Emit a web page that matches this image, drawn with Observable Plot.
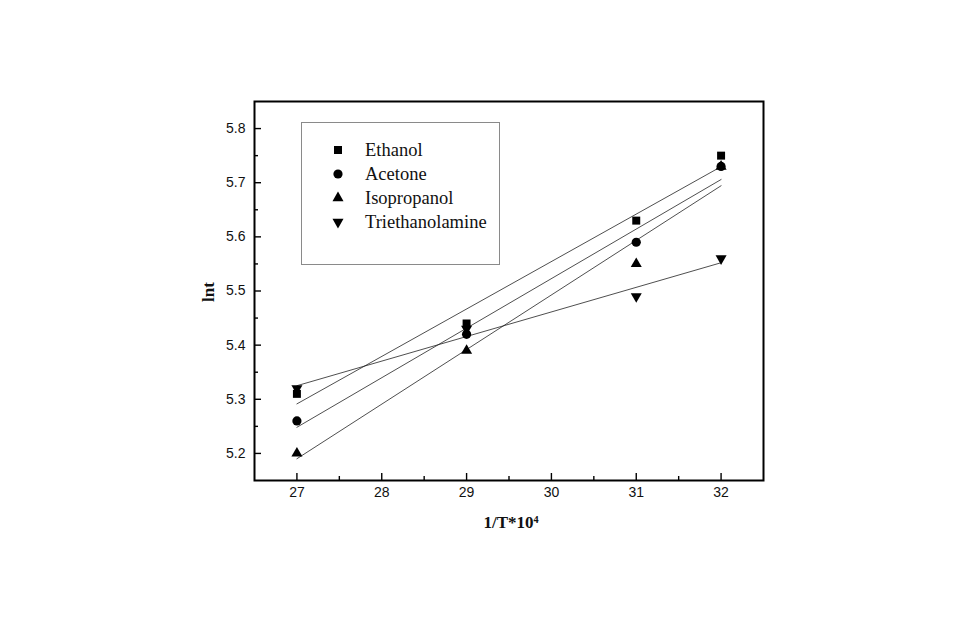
<!DOCTYPE html>
<html>
<head>
<meta charset="utf-8">
<script src="https://cdn.jsdelivr.net/npm/d3@7"></script>
<script src="https://cdn.jsdelivr.net/npm/@observablehq/plot@0.6"></script>
<style>
  html, body { margin: 0; padding: 0; background: #fff; }
  #wrap { position: relative; width: 960px; height: 633px; }
  #legend { position: absolute; left: 301px; top: 122px; width: 197px; height: 141px;
            border: 1px solid #8a8a8a; background: #fff; font-family: "Liberation Serif", serif; font-size: 18.5px; color: #111; }
  .row { position: absolute; left: 0; height: 24px; display: flex; align-items: center; }
  .row svg { position: absolute; left: 27px; top: 3px; }
  .row span { position: absolute; left: 63px; white-space: nowrap; line-height: 24px; top: 0; }
</style>
</head>
<body>
<div id="wrap"></div>
<script>
// ---- data ----
const xValues = [27, 29, 31, 32];
const ethanol = [5.31, 5.44, 5.63, 5.75];
const acetone = [5.26, 5.42, 5.59, 5.73];
const isopropanol = [5.20, 5.39, 5.55, 5.73];
const triethanolamine = [5.32, 5.43, 5.49, 5.56];
const seriesNames = ["Ethanol", "Acetone", "Isopropanol", "Triethanolamine"];
const xTicks = [27, 28, 29, 30, 31, 32];
const xMinorTicks = [27.5, 28.5, 29.5, 30.5, 31.5];
const yTicks = [5.2, 5.3, 5.4, 5.5, 5.6, 5.7, 5.8];
const yMinorTicks = [5.25, 5.35, 5.45, 5.55, 5.65, 5.75];
const xLabel = "1/T*10\u2074";
const yLabel = "lnt";

const seriesValues = [ethanol, acetone, isopropanol, triethanolamine];
const rows = seriesNames.flatMap((s, i) => xValues.map((x, j) => ({series: s, x, y: seriesValues[i][j]})));
const bySeries = name => rows.filter(d => d.series === name);

const W = 960, H = 633, mL = 254, mR = 197, mT = 101, mB = 153;
const pw = W - mL - mR, ph = H - mT - mB;

const chart = Plot.plot({
  width: W, height: H,
  marginLeft: mL, marginRight: mR, marginTop: mT, marginBottom: mB,
  style: {background: "transparent", fontFamily: "'Liberation Sans', Arial, sans-serif", fontSize: "14px", color: "#111"},
  x: {domain: [26.5, 32.5]},
  y: {domain: [5.15, 5.85]},
  marks: [
    Plot.linearRegressionY(rows, {x: "x", y: "y", z: "series", ci: 0, stroke: "#222", strokeWidth: 0.8}),
    Plot.dot(bySeries("Ethanol"), {x: "x", y: "y", symbol: "square", r: 4.5, fill: "#000"}),
    Plot.dot(bySeries("Acetone"), {x: "x", y: "y", symbol: "circle", r: 4.6, fill: "#000"}),
    Plot.dot(bySeries("Isopropanol"), {x: "x", y: "y", symbol: "triangle", r: 4.1, fill: "#000"}),
    Plot.dot(bySeries("Triethanolamine"), {x: "x", y: "y", symbol: "triangle", rotate: 180, r: 4.1, fill: "#000"}),
    Plot.tickX(xTicks, {x: d => d, insetTop: ph - 7, stroke: "#000", strokeWidth: 1.4}),
    Plot.tickX(xMinorTicks, {x: d => d, insetTop: ph - 4, stroke: "#000", strokeWidth: 1.4}),
    Plot.tickY(yTicks, {y: d => d, insetRight: pw - 7, stroke: "#000", strokeWidth: 1.4}),
    Plot.tickY(yMinorTicks, {y: d => d, insetRight: pw - 4, stroke: "#000", strokeWidth: 1.4}),
    Plot.axisX({ticks: xTicks, tickSize: 0, tickPadding: 7, label: null, tickFormat: d => String(d)}),
    Plot.axisY({ticks: yTicks, tickSize: 0, tickPadding: 9, label: null, tickFormat: d3.format(".1f")}),
    Plot.frame({stroke: "#000", strokeWidth: 2}),
    Plot.text([yLabel], {frameAnchor: "left", dx: -46, dy: 11, rotate: -90, text: d => d,
      fontFamily: "'Liberation Serif', serif", fontWeight: "bold", fontSize: 17, fill: "#111"}),
    Plot.text([xLabel], {frameAnchor: "bottom", dx: 2, dy: 42, text: d => d, lineAnchor: "middle",
      fontFamily: "'Liberation Serif', serif", fontWeight: "bold", fontSize: 17, fill: "#111"})
  ]
});
const wrap = document.getElementById("wrap");
wrap.appendChild(chart);

// legend inside the frame
const legend = document.createElement("div");
legend.id = "legend";
const symbolSpecs = [
  {type: d3.symbolSquare, r: 4.5, rot: 0},
  {type: d3.symbolCircle, r: 4.6, rot: 0},
  {type: d3.symbolTriangle, r: 4.1, rot: 0},
  {type: d3.symbolTriangle, r: 4.1, rot: 180}
];
const rowTops = [15, 39, 63, 87];
seriesNames.forEach((name, i) => {
  const row = document.createElement("div");
  row.className = "row";
  row.style.top = rowTops[i] + "px";
  const spec = symbolSpecs[i];
  const path = d3.symbol(spec.type, Math.PI * spec.r * spec.r)();
  row.innerHTML = `<svg width="18" height="18" viewBox="-9 -9 18 18"><path d="${path}" fill="#000" transform="rotate(${spec.rot})"></path></svg><span>${name}</span>`;
  legend.appendChild(row);
});
wrap.appendChild(legend);
</script>
</body>
</html>
